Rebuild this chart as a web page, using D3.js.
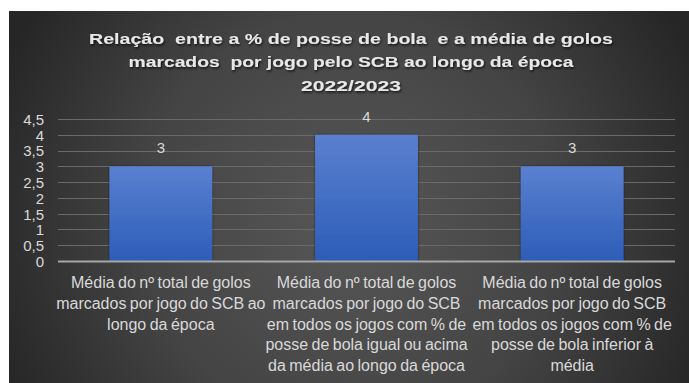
<!DOCTYPE html>
<html>
<head>
<meta charset="utf-8">
<script src="https://cdn.jsdelivr.net/npm/d3@7/dist/d3.min.js"></script>
<style>
  html, body { margin: 0; padding: 0; background: #ffffff; }
  svg { display: block; }
</style>
</head>
<body>
<svg id="chart" width="689" height="383"></svg>
<script>
// Chart data
const titleLines = [
  "Relação  entre a % de posse de bola  e a média de golos",
  "marcados  por jogo pelo SCB ao longo da época",
  "2022/2023"
];
const categories = [
  ["Média do nº total de golos", "marcados por jogo do SCB ao", "longo da época"],
  ["Média do nº total de golos", "marcados por jogo do SCB", "em todos os jogos com % de", "posse de bola igual ou acima", "da média ao longo da época"],
  ["Média do nº total de golos", "marcados por jogo do SCB", "em todos os jogos com % de", "posse de bola inferior à", "média"]
];
const values = [3, 4, 3];
const yTicks = [0, 0.5, 1, 1.5, 2, 2.5, 3, 3.5, 4, 4.5];

const W = 689, H = 383;
const svg = d3.select("#chart");
const defs = svg.append("defs");

// Panel background: dark radial gradient
const bg = defs.append("radialGradient").attr("id", "bgGrad")
  .attr("gradientUnits", "userSpaceOnUse")
  .attr("cx", 350).attr("cy", 220).attr("r", 380);
bg.append("stop").attr("offset", "0%").attr("stop-color", "#575757");
bg.append("stop").attr("offset", "55%").attr("stop-color", "#444444");
bg.append("stop").attr("offset", "100%").attr("stop-color", "#262626");

// Bar fill gradient
const barG = defs.append("linearGradient").attr("id", "barGrad")
  .attr("x1", 0).attr("y1", 0).attr("x2", 0).attr("y2", 1);
barG.append("stop").attr("offset", "0%").attr("stop-color", "#5a80d0");
barG.append("stop").attr("offset", "100%").attr("stop-color", "#2d5db7");

// Soft shadow for title and bars
const sh = defs.append("filter").attr("id", "txtShadow")
  .attr("x", "-5%").attr("y", "-30%").attr("width", "110%").attr("height", "160%");
sh.append("feDropShadow").attr("dx", 1).attr("dy", 1.5).attr("stdDeviation", 1)
  .attr("flood-color", "#000").attr("flood-opacity", 0.75);
const bsh = defs.append("filter").attr("id", "barShadow")
  .attr("x", "-10%").attr("y", "-10%").attr("width", "120%").attr("height", "120%");
bsh.append("feDropShadow").attr("dx", 0).attr("dy", 0).attr("stdDeviation", 1.2)
  .attr("flood-color", "#000").attr("flood-opacity", 0.6);

svg.append("rect")
  .attr("x", 9).attr("y", 11).attr("width", W - 9).attr("height", H - 11)
  .attr("fill", "url(#bgGrad)");

// Title (double spaces kept as written)
const titleWidths = [524, 445, 100];
const title = svg.append("g").attr("filter", "url(#txtShadow)");
titleLines.forEach((t, i) => {
  title.append("text")
    .attr("x", 351).attr("y", 44 + i * 23.3)
    .attr("text-anchor", "middle")
    .style("white-space", "pre")
    .attr("font-family", "'Liberation Sans', Arial, sans-serif")
    .attr("font-weight", "bold")
    .attr("font-size", 15.5)
    .attr("fill", "#e8e8e8")
    .attr("textLength", titleWidths[i])
    .attr("lengthAdjust", "spacingAndGlyphs")
    .text(t);
});

// Scales
const margin = { left: 58, right: 675, top: 119, bottom: 261 };
const x = d3.scaleBand()
  .domain(d3.range(values.length))
  .range([margin.left, margin.right])
  .paddingInner(0.5).paddingOuter(0.25);
const y = d3.scaleLinear().domain([0, 4.5]).range([margin.bottom, margin.top]);

// Gridlines
svg.append("g")
  .selectAll("line").data(yTicks.filter(d => d > 0)).join("line")
  .attr("x1", margin.left).attr("x2", margin.right)
  .attr("y1", d => Math.round(y(d)) + 0.5).attr("y2", d => Math.round(y(d)) + 0.5)
  .attr("stroke", "#6a6a6a").attr("stroke-width", 1);

// Y axis labels
const yAxis = d3.axisLeft(y).tickValues(yTicks).tickSize(0).tickPadding(0)
  .tickFormat(d => String(d).replace(".", ","));
const ya = svg.append("g").attr("transform", "translate(44,0)").call(yAxis);
ya.select(".domain").remove();
ya.selectAll("text")
  .attr("font-family", "'Liberation Sans', sans-serif")
  .attr("font-size", 15).attr("fill", "#d9d9d9")
  .attr("dy", "0.36em");

// Bars
svg.append("g").attr("filter", "url(#barShadow)")
  .selectAll("rect").data(values).join("rect")
  .attr("x", (d, i) => x(i))
  .attr("y", d => y(d))
  .attr("width", x.bandwidth())
  .attr("height", d => y(0) - y(d))
  .attr("fill", "url(#barGrad)");

// Baseline
svg.append("line")
  .attr("x1", margin.left).attr("x2", margin.right)
  .attr("y1", y(0) + 0.5).attr("y2", y(0) + 0.5)
  .attr("stroke", "#a6a6a6").attr("stroke-width", 2);

// Value labels
svg.append("g").selectAll("text").data(values).join("text")
  .attr("x", (d, i) => x(i) + x.bandwidth() / 2)
  .attr("y", d => y(d) - 13)
  .attr("text-anchor", "middle")
  .attr("font-family", "'Liberation Sans', sans-serif")
  .attr("font-size", 15).attr("fill", "#d9d9d9")
  .text(d => d);

// Category labels
const cat = svg.append("g");
categories.forEach((lines, i) => {
  const cx = x(i) + x.bandwidth() / 2;
  const t = cat.append("text")
    .attr("text-anchor", "middle")
    .attr("font-family", "'Liberation Sans', sans-serif")
    .attr("font-size", 16).attr("word-spacing", -1)
    .attr("fill", "#d9d9d9");
  lines.forEach((ln, j) => {
    t.append("tspan").attr("x", cx).attr("y", 288 + j * 20.8).text(ln);
  });
});
</script>
</body>
</html>
